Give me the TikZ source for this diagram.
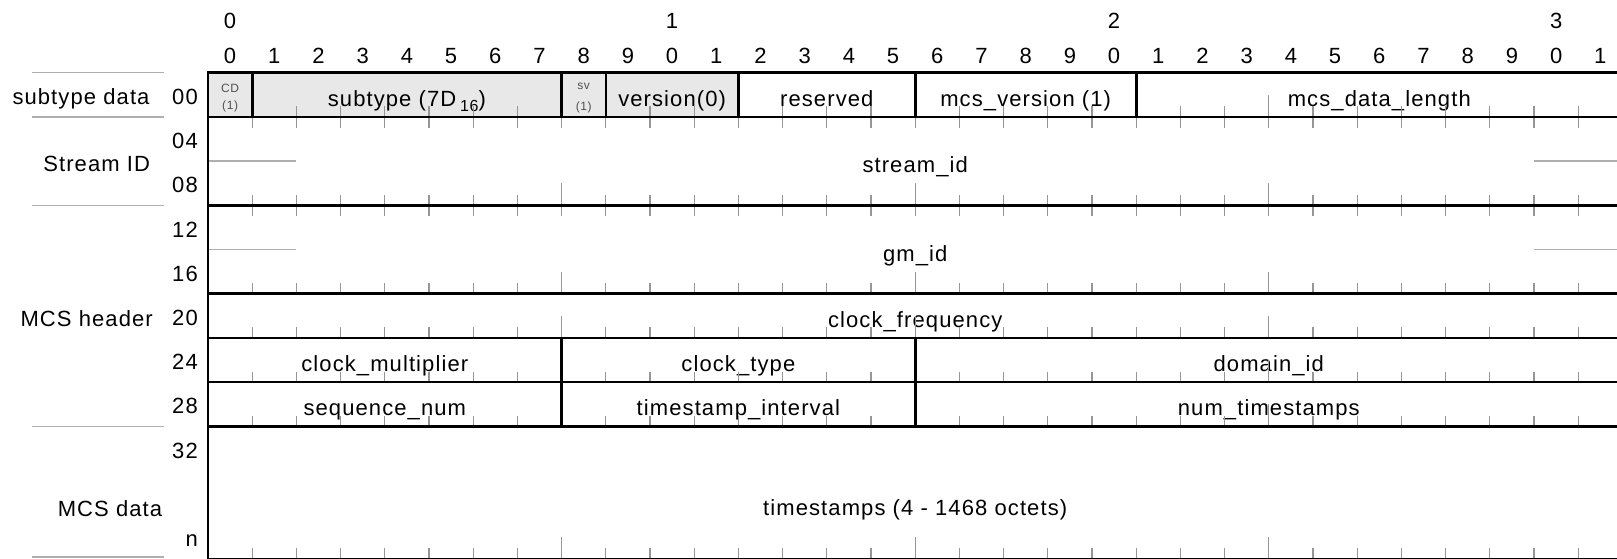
\documentclass[tikz,border=0pt]{standalone}
\usepackage{fontspec}
\setmainfont[LetterSpace=5]{Liberation Sans}
\definecolor{fgray}{RGB}{232,232,232}
\definecolor{tickc}{RGB}{150,150,150}
\definecolor{stubc}{RGB}{175,175,175}
\definecolor{smallc}{RGB}{80,80,80}
\newcommand\fld[6]{%
  \node[fieldbox,fill=#6,minimum width={#3*44.2pt},minimum height={#5*44.2pt}] (#1) at ({208+(#2+#3/2)*44.2},{72.7+(#4+#5/2)*44.2}) {};}
\begin{document}
\begin{tikzpicture}[x=1pt,y=-1pt,
  fieldbox/.style={rectangle,inner sep=0pt,outer sep=0pt},
  border/.style={line width=2.6pt,black},
  ftext/.style={anchor=base,inner sep=0pt,font=\fontsize{22}{26}\selectfont},
  small/.style={inner sep=0pt,font=\fontsize{12}{13}\selectfont,text=smallc},
  tick/.style={line width=1.1pt,tickc},
  stub/.style={line width=1.3pt,stubc},
  sep/.style={line width=1.3pt,stubc},
  lbl/.style={anchor=base,inner sep=0pt,font=\fontsize{22}{26}\selectfont},
  off/.style={anchor=base east,inner sep=0pt,font=\fontsize{22}{26}\selectfont}]

\useasboundingbox (0,0) rectangle (1617,558);
\fill[white] (0,0) rectangle (1617,558);

% fields (fill only)
\fld{cd}{0}{1}{0}{1}{fgray}
\fld{subtype}{1}{7}{0}{1}{fgray}
\fld{sv}{8}{1}{0}{1}{fgray}
\fld{version}{9}{3}{0}{1}{fgray}
\fld{reserved}{12}{4}{0}{1}{white}
\fld{mcsver}{16}{5}{0}{1}{white}
\fld{mcslen}{21}{11}{0}{1}{white}
\fld{streamid}{0}{32}{1}{2}{white}
\fld{gmid}{0}{32}{3}{2}{white}
\fld{clkfreq}{0}{32}{5}{1}{white}
\fld{clkmul}{0}{8}{6}{1}{white}
\fld{clktype}{8}{8}{6}{1}{white}
\fld{domain}{16}{16}{6}{1}{white}
\fld{seqnum}{0}{8}{7}{1}{white}
\fld{tsint}{8}{8}{7}{1}{white}
\fld{numts}{16}{16}{7}{1}{white}
\fld{ts}{0}{32}{8}{3}{white}

% field texts
\node[small] (t-cd) at ([yshift=6pt]cd.center) {CD};
\node[small] (t-cd1) at ([yshift=-12pt]cd.center) {(1)};
\node[ftext] (t-subtype) at ([yshift=-11.5pt]subtype.center) {subtype (7D\,\raisebox{-5pt}{\fontsize{16}{16}\selectfont 16})};
\node[small] (t-sv) at ([yshift=8pt]sv.center) {sv};
\node[small] (t-sv1) at ([yshift=-12.5pt]sv.center) {(1)};
\node[ftext] (t-version) at ([yshift=-11.5pt]version.center) {version(0)};
\node[ftext] (t-reserved) at ([yshift=-11.5pt]reserved.center) {reserved};
\node[ftext] (t-mcsver) at ([yshift=-11.5pt]mcsver.center) {mcs\_version (1)};
\node[ftext] (t-mcslen) at ([yshift=-11.5pt]mcslen.center) {mcs\_data\_length};
\node[ftext] (t-streamid) at ([yshift=-11.5pt]streamid.center) {stream\_id};
\node[ftext] (t-gmid) at ([yshift=-11.5pt]gmid.center) {gm\_id};
\node[ftext] (t-clkfreq) at ([yshift=-11.5pt]clkfreq.center) {clock\_frequency};
\node[ftext] (t-clkmul) at ([yshift=-11.5pt]clkmul.center) {clock\_multiplier};
\node[ftext] (t-clktype) at ([yshift=-11.5pt]clktype.center) {clock\_type};
\node[ftext] (t-domain) at ([yshift=-11.5pt]domain.center) {domain\_id};
\node[ftext] (t-seqnum) at ([yshift=-11.5pt]seqnum.center) {sequence\_num};
\node[ftext] (t-tsint) at ([yshift=-11.5pt]tsint.center) {timestamp\_interval};
\node[ftext] (t-numts) at ([yshift=-11.5pt]numts.center) {num\_timestamps};
\node[ftext] (t-ts) at ([yshift=-22.4pt]ts.center) {timestamps (4 - 1468 octets)};

% ticks
\foreach \r in {1,3,5,6,7,8,11}{
  \foreach \b in {1,...,31}{\draw[tick] ({208+\b*44.2},{72.7+\r*44.2}) -- ++(0,-10.5);}
  \foreach \b in {8,16,24}{\draw[tick] ({208+\b*44.2},{72.7+\r*44.2}) -- ++(0,-22);}
}
\foreach \r in {1,3}{
  \foreach \b in {1,...,31}{\draw[tick] ({208+\b*44.2},{72.7+\r*44.2}) -- ++(0,11);}
}

% continuation stubs
\draw[stub] (streamid.west) -- ++(88.4,0);
\draw[stub] (streamid.east) -- ++(-88.4,0);
\draw[stub] (gmid.west) -- ++(88.4,0);
\draw[stub] (gmid.east) -- ++(-88.4,0);

% borders
\foreach \n in {cd,subtype,sv,version,reserved,mcsver,mcslen,streamid,gmid,clkfreq,clkmul,clktype,domain,seqnum,tsint,numts,ts}{
  \draw[border] (\n.north west) rectangle (\n.south east);
}

% bit numbers
\foreach \b [evaluate=\b as \d using {int(mod(\b,10))}] in {0,...,31}{
  \node[lbl] (b\b) at ({208+(\b+0.5)*44.2},63) {\d};
}
\foreach \b/\t in {0/0,10/1,20/2,30/3}{
  \node[lbl] (tb\b) at ({208+(\b+0.5)*44.2},28.5) {\t};
}

% word offsets
\foreach \k/\t in {0/00,1/04,2/08,3/12,4/16,5/20,6/24,7/28,8/32,10/n}{
  \node[off] (o\k) at (198,{72.7+(\k+1)*44.2-12.4}) {\t};
}

% group labels and separators
\node[lbl] (g-sub) at (81,104.5) {subtype data};
\node[lbl] (g-sid) at (96.7,171.5) {Stream ID};
\node[lbl] (g-hdr) at (86.7,326) {MCS header};
\node[lbl] (g-dat) at (110,516) {MCS data};
\foreach \yy in {72.7,116.9,205.3,426.3,557}{
  \draw[sep] (32,\yy) -- (164,\yy);
}
\end{tikzpicture}
\end{document}
